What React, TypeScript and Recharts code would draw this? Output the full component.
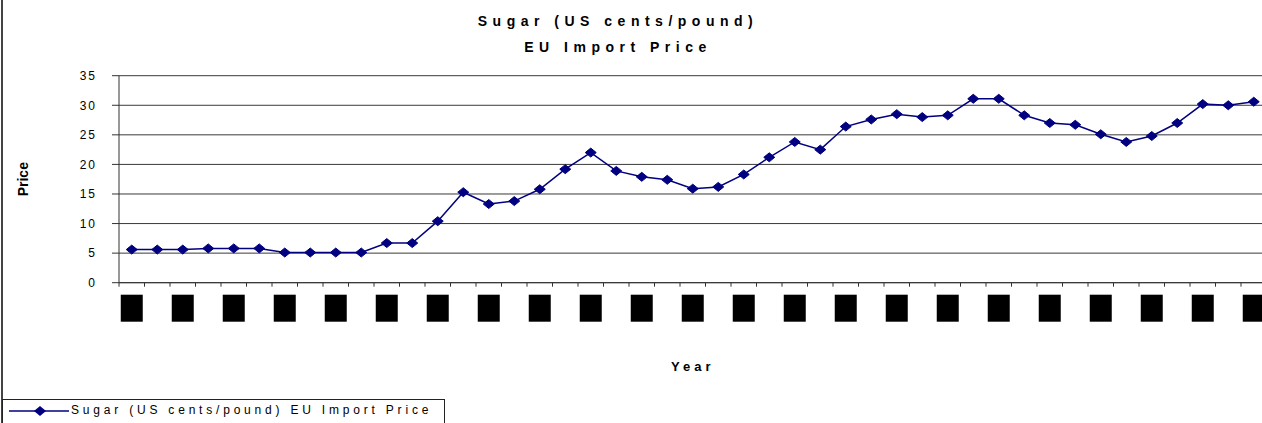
import { LineChart, Line, CartesianGrid, XAxis, YAxis, Label } from "recharts";

const years = [
  1960, 1961, 1962, 1963, 1964, 1965, 1966, 1967, 1968, 1969, 1970, 1971, 1972,
  1973, 1974, 1975, 1976, 1977, 1978, 1979, 1980, 1981, 1982, 1983, 1984, 1985,
  1986, 1987, 1988, 1989, 1990, 1991, 1992, 1993, 1994, 1995, 1996, 1997, 1998,
  1999, 2000, 2001, 2002, 2003, 2004,
];

const prices = [
  5.6, 5.6, 5.6, 5.8, 5.8, 5.8, 5.1, 5.1, 5.1, 5.1, 6.7, 6.7, 10.4, 15.3, 13.3,
  13.8, 15.8, 19.2, 22.0, 18.9, 17.9, 17.4, 15.9, 16.2, 18.3, 21.2, 23.8, 22.5,
  26.4, 27.6, 28.5, 28.0, 28.3, 31.1, 31.1, 28.3, 27.0, 26.7, 25.1, 23.8, 24.8,
  27.0, 30.2, 30.0, 30.6,
];

const priceTicks = [0, 5, 10, 15, 20, 25, 30, 35];

const data = years.map((year, i) => ({ year, price: prices[i] }));

// labels on every other year, tick marks between years
const labelYears = years.filter((y) => y % 2 === 0);
const boundaries = [...years.map((y) => y - 0.5), years[years.length - 1] + 0.5];
const xTicks = [...boundaries, ...labelYears].sort((a, b) => a - b);

const font = "Arial, 'Liberation Sans', sans-serif";
const navy = "#000080";

const YearTick = ({ x, y, payload }: any) => {
  const v = payload.value;
  if (v % 1 !== 0) {
    return <line x1={x} x2={x} y1={y} y2={y + 4} stroke="#333" />;
  }
  return (
    <g>
      <rect x={x - 11} y={y + 12} width={22} height={27} fill="#000" />
      <text x={x} y={y + 29} textAnchor="middle" fontSize={8} fontFamily={font} fill="#000">
        {v}
      </text>
    </g>
  );
};

const Diamond = ({ cx, cy }: any) => {
  if (cx == null || cy == null) return null;
  return (
    <polygon
      points={`${cx},${cy - 4.5} ${cx + 5.5},${cy} ${cx},${cy + 4.5} ${cx - 5.5},${cy}`}
      fill={navy}
      stroke={navy}
    />
  );
};

export default function App() {
  return (
    <div
      style={{
        position: "fixed",
        left: 0,
        top: 0,
        width: 1262,
        height: 423,
        overflow: "hidden",
        background: "#fff",
        fontFamily: font,
      }}
    >
      <div style={{ position: "absolute", left: 1, top: 0, width: 2, height: 423, background: "#444" }} />
      <div
        style={{
          position: "absolute",
          left: 318,
          width: 600,
          top: 8,
          textAlign: "center",
          fontWeight: "bold",
          fontSize: 14,
          letterSpacing: 5.5,
          lineHeight: "26px",
          color: "#000",
        }}
      >
        <div>Sugar (US cents/pound)</div>
        <div>EU Import Price</div>
      </div>
      <LineChart
        width={1270}
        height={423}
        data={data}
        margin={{ top: 75.7, right: 3.5, left: 0, bottom: 0 }}
      >
        <CartesianGrid vertical={false} stroke="#3a3a3a" />
        <XAxis
          dataKey="year"
          type="number"
          domain={[1959.5, 2004.5]}
          ticks={xTicks}
          interval={0}
          tick={<YearTick />}
          tickLine={false}
          tickSize={0}
          tickMargin={0}
          axisLine={{ stroke: "#333" }}
          height={140.3}
          allowDataOverflow
        >
          <Label
            content={({ viewBox }: any) => (
              <text
                x={viewBox.x + viewBox.width / 2}
                y={viewBox.y + 88}
                textAnchor="middle"
                fontSize={13}
                fontWeight="bold"
                letterSpacing={4}
                fontFamily={font}
                fill="#000"
              >
                Year
              </text>
            )}
          />
        </XAxis>
        <YAxis
          domain={[0, 35]}
          ticks={priceTicks}
          width={119}
          tickSize={7}
          tickMargin={15}
          axisLine={{ stroke: "#333" }}
          tickLine={{ stroke: "#333" }}
          tick={{ fill: "#000", fontSize: 12, fontFamily: font, letterSpacing: 2 }}
        >
          <Label
            content={({ viewBox }: any) => (
              <text
                x={23}
                y={viewBox.y + viewBox.height / 2}
                textAnchor="middle"
                dominantBaseline="central"
                transform={`rotate(-90 23 ${viewBox.y + viewBox.height / 2})`}
                fontSize={14}
                fontWeight="bold"
                fontFamily={font}
                fill="#000"
              >
                Price
              </text>
            )}
          />
        </YAxis>
        <Line
          dataKey="price"
          stroke={navy}
          strokeWidth={1.5}
          dot={<Diamond />}
          isAnimationActive={false}
        />
      </LineChart>
      <div
        style={{
          position: "absolute",
          left: 2,
          top: 399,
          width: 443,
          height: 40,
          border: "1px solid #222",
          boxSizing: "border-box",
        }}
      >
        <svg width={70} height={22} style={{ position: "absolute", left: 0, top: 0 }}>
          <line x1={6} x2={66} y1={11} y2={11} stroke={navy} strokeWidth={1.5} />
          <polygon points="37,6 43,11 37,16 31,11" fill={navy} />
        </svg>
        <span
          style={{
            position: "absolute",
            left: 68,
            top: 3,
            fontSize: 12,
            letterSpacing: 3.8,
            whiteSpace: "nowrap",
            color: "#000",
          }}
        >
          Sugar (US cents/pound) EU Import Price
        </span>
      </div>
    </div>
  );
}
